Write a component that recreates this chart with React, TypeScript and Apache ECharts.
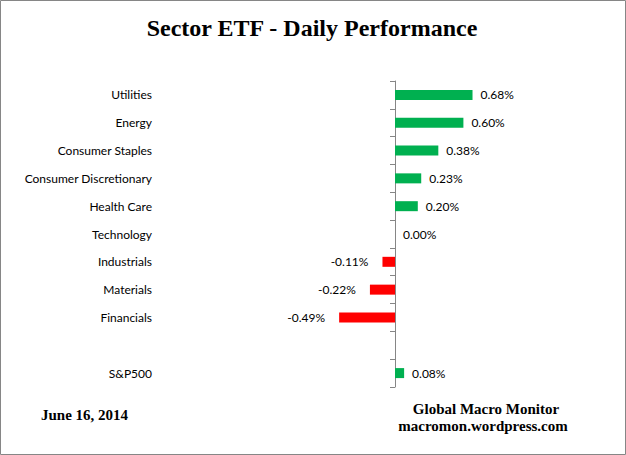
import React, { useEffect, useRef } from "react";
import * as echarts from "echarts";

const categories = [
  "Utilities",
  "Energy",
  "Consumer Staples",
  "Consumer Discretionary",
  "Health Care",
  "Technology",
  "Industrials",
  "Materials",
  "Financials",
  "",
  "S&P500",
];
const values: (number | null)[] = [0.68, 0.6, 0.38, 0.23, 0.2, 0.0, -0.11, -0.22, -0.49, null, 0.08];
const titleText = "Sector ETF - Daily Performance";
const dateText = "June 16, 2014";
const sourceLines = ["Global Macro Monitor", "macromon.wordpress.com"];

const GREEN = "#00B050";
const RED = "#FF0000";
const LABEL_FONT = "Lato, 'Noto Sans', sans-serif";
const SERIF = "'Liberation Serif', 'Times New Roman', serif";

export default function App() {
  const ref = useRef<HTMLDivElement>(null);
  useEffect(() => {
    if (!ref.current) return;
    const chart = echarts.init(ref.current, undefined, { renderer: "svg" });
    chart.setOption({
      animation: false,
      backgroundColor: "#ffffff",
      grid: { left: 167, right: 117, top: 81, bottom: 68, containLabel: false },
      xAxis: {
        type: "value",
        min: -2,
        max: 1,
        show: false,
      },
      yAxis: [
        {
          type: "category",
          data: categories,
          inverse: true,
          position: "left",
          axisLine: { show: false, onZero: false },
          axisTick: { show: false },
          axisLabel: {
            margin: 15,
            color: "#000",
            fontSize: 12,
            fontFamily: LABEL_FONT,
          },
        },
        {
          type: "category",
          data: categories,
          inverse: true,
          position: "left",
          axisLine: { show: true, onZero: true, lineStyle: { color: "#868686", width: 1 } },
          axisTick: { show: true, length: 5, lineStyle: { color: "#868686" } },
          axisLabel: { show: false },
        },
      ],
      series: [
        {
          type: "bar",
          yAxisIndex: 0,
          barWidth: 10,
          data: values.map((v) =>
            v === null
              ? "-"
              : {
                  value: v,
                  itemStyle: { color: v >= 0 ? GREEN : RED },
                  label: { position: v < 0 ? "left" : "right", distance: v < 0 ? 14 : 8 },
                }
          ),
          label: {
            show: true,
            color: "#000",
            fontSize: 12,
            fontFamily: LABEL_FONT,
            formatter: (p: any) => (typeof p.value === "number" ? p.value.toFixed(2) + "%" : ""),
          },
        },
      ],
      graphic: [
        {
          type: "rect",
          shape: { x: 0.5, y: 0.5, width: 625, height: 454 },
          style: { fill: "none", stroke: "#868686", lineWidth: 1 },
          silent: true,
        },
        {
          type: "text",
          x: 312,
          y: 28,
          style: {
            text: titleText,
            fontFamily: SERIF,
            fontWeight: "bold",
            fontSize: 24,
            fill: "#000",
            align: "center",
            verticalAlign: "middle",
          },
        },
        {
          type: "text",
          x: 41,
          y: 415,
          style: {
            text: dateText,
            fontFamily: SERIF,
            fontWeight: "bold",
            fontSize: 15,
            fill: "#000",
            align: "left",
            verticalAlign: "middle",
          },
        },
        {
          type: "text",
          x: 486,
          y: 409,
          style: {
            text: sourceLines[0],
            fontFamily: SERIF,
            fontWeight: "bold",
            fontSize: 15,
            fill: "#000",
            align: "center",
            verticalAlign: "middle",
          },
        },
        {
          type: "text",
          x: 483,
          y: 426,
          style: {
            text: sourceLines[1],
            fontFamily: SERIF,
            fontWeight: "bold",
            fontSize: 15,
            fill: "#000",
            align: "center",
            verticalAlign: "middle",
          },
        },
      ],
    });
    return () => chart.dispose();
  }, []);
  return (
    <div
      ref={ref}
      style={{ position: "fixed", left: 0, top: 0, width: 626, height: 455 }}
    />
  );
}
